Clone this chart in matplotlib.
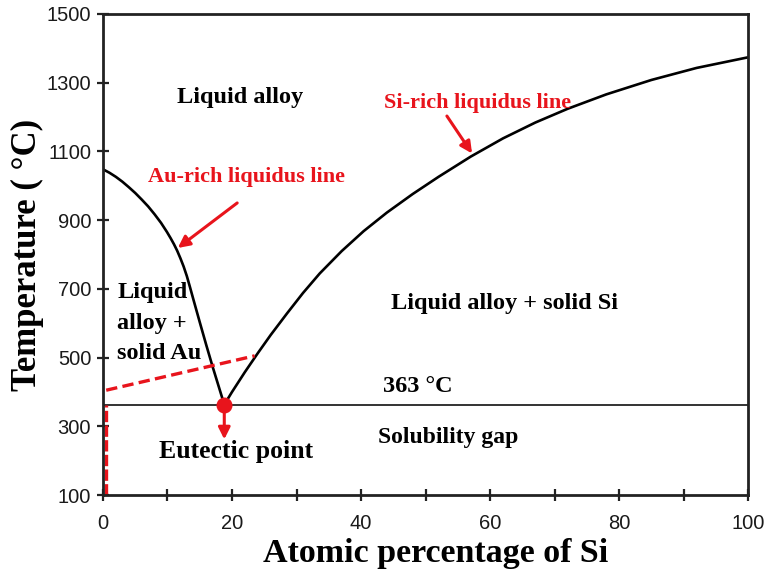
import matplotlib.pyplot as plt

# Au-Si phase diagram, liquidus lines read as (at.% Si, temperature in C)
au_rich_x = [0, 1, 2, 3, 4, 5, 6, 7, 8, 9, 9.9, 10.5, 11, 11.5, 12, 12.5, 13,
             13.5, 14, 15, 16, 17, 18, 18.8]
au_rich_T = [1048, 1038, 1026, 1012, 996, 979, 960, 940, 917, 892, 866, 847, 830,
             811, 789, 765, 737, 704, 670, 603, 537, 473, 412, 363]
si_rich_x = [18.8, 20, 22, 24, 26, 28.5, 31, 33.6, 37, 40.4, 44, 48, 52, 57, 62,
             67, 72, 78, 85, 92, 100]
si_rich_T = [363, 400, 458, 513, 566, 628, 688, 745, 810, 868, 922, 976, 1026,
             1085, 1138, 1184, 1224, 1266, 1308, 1343, 1374]

eutectic_x = 18.8
eutectic_T = 363

# red dashed guides
guide_x = [0.5, 23.5]
guide_T = [405, 505]
wall_x = [0.5, 0.5]
wall_T = [100, 363]

x_ticks = [0, 20, 40, 60, 80, 100]
x_minor = [10, 30, 50, 70, 90]
y_ticks = [100, 300, 500, 700, 900, 1100, 1300, 1500]

RED = "#e8141c"
serif = "Liberation Serif"

fig = plt.figure(figsize=(7.65, 5.73), dpi=100)
ax = fig.add_axes([0.1346, 0.1361, 0.8435, 0.8395])

ax.plot(au_rich_x, au_rich_T, color="black", lw=1.9, solid_joinstyle="round")
ax.plot(si_rich_x, si_rich_T, color="black", lw=1.9, solid_joinstyle="round")
ax.axhline(eutectic_T, color="#333333", lw=1.4)

ax.plot(guide_x, guide_T, color=RED, lw=2.4, dashes=(3.4, 1.6))
ax.plot(wall_x, wall_T, color=RED, lw=2.4, dashes=(3.4, 1.0))
ax.plot([eutectic_x], [eutectic_T], "o", color=RED, ms=10.5, zorder=5)

arrow = dict(arrowstyle="-|>,head_length=0.7,head_width=0.35", color=RED, lw=2.2,
             shrinkA=0, shrinkB=0)
ax.annotate("", xy=(11.6, 819), xytext=(20.8, 950), arrowprops=arrow)
ax.annotate("", xy=(57.2, 1094), xytext=(53.3, 1203), arrowprops=arrow)
ax.annotate("", xy=(eutectic_x, 262), xytext=(eutectic_x, 350), arrowprops=arrow)

txt = dict(family=serif, weight="bold", ha="center", va="center")
ax.text(21.2, 1258, "Liquid alloy", fontsize=17.5, **txt)
ax.text(22.3, 1026, "Au-rich liquidus line", fontsize=16, color=RED, **txt)
ax.text(58.1, 1241, "Si-rich liquidus line", fontsize=16, color=RED, **txt)
ax.text(2.2, 600, "Liquid\nalloy +\nsolid Au", fontsize=17.5, family=serif,
        weight="bold", ha="left", va="center", linespacing=1.6)
ax.text(62.3, 656, "Liquid alloy + solid Si", fontsize=17.5, **txt)
ax.text(48.8, 417, "363 \u00b0C", fontsize=17.5, **txt)
ax.text(20.6, 228, "Eutectic point", fontsize=18.5, **txt)
ax.text(53.5, 266, "Solubility gap", fontsize=17, **txt)

ax.set_xlim(0, 100)
ax.set_ylim(100, 1500)
ax.set_xticks(x_ticks)
ax.set_xticks(x_minor, minor=True)
ax.set_yticks(y_ticks)
ax.tick_params(which="both", direction="inout", length=9, width=1.6,
               color="#222222", labelsize=14.5, labelcolor="#1a1a1a")
ax.tick_params(axis="x", pad=9)
ax.tick_params(axis="y", pad=4)
for lab in ax.get_xticklabels() + ax.get_yticklabels():
    lab.set_family("Liberation Sans")

for sp in ax.spines.values():
    sp.set_linewidth(2.0)
    sp.set_color("#222222")

ax.set_xlabel("Atomic percentage of Si", family=serif, weight="bold",
              fontsize=24.5)
ax.xaxis.set_label_coords(0.516, -0.089)
ax.set_ylabel("Temperature ( \u00b0C)", family=serif, weight="bold",
              fontsize=25, labelpad=2)

fig.savefig("out.png", dpi=100)
